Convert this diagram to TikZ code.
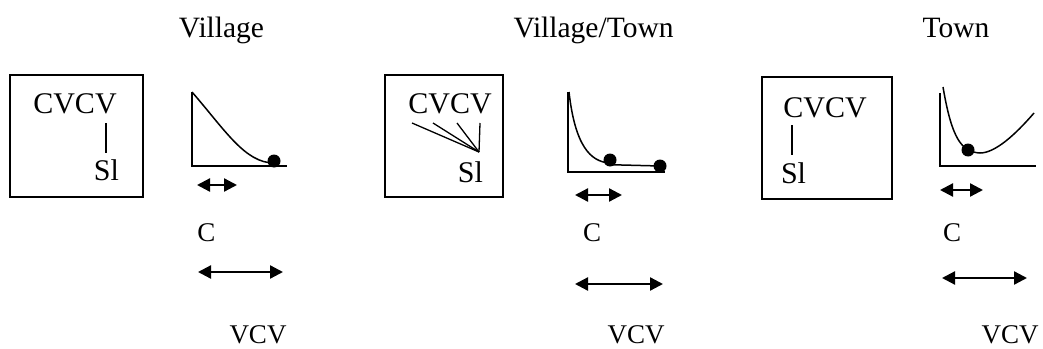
\documentclass[tikz,border=0pt]{standalone}
\usepackage{fontspec}
\setmainfont{Liberation Serif}
\usetikzlibrary{arrows.meta}
\tikzset{
  frame/.style={draw, line width=1.8pt, inner sep=0pt},
  ttl/.style={font=\fontsize{29.5}{30}\selectfont, anchor=base, inner sep=0pt},
  seg/.style={font=\fontsize{30}{30}\selectfont, anchor=base, inner sep=0pt},
  lbl/.style={font=\fontsize{27}{27}\selectfont, anchor=base, inner sep=0pt},
  link/.style={line width=1.3pt},
  axis/.style={line width=1.9pt},
  crv/.style={line width=1.5pt},
  dot/.style={circle, fill, inner sep=0pt, minimum size=13pt},
  dblarrow/.style={line width=2.3pt, {Triangle[length=13pt,width=13pt]}-{Triangle[length=13pt,width=13pt]}}
}
\begin{document}
\begin{tikzpicture}[x=1pt,y=-1pt]
\useasboundingbox (0,0) rectangle (1043,348);

% ---------- Panel 1: Village ----------
\node[ttl] (t1) at (221.5,37) {Village};
\node[frame, minimum width=133pt, minimum height=122pt] (b1) at (76.5,136) {};
\node[seg] (cv1) at (75,113) {CVCV};
\node[seg] (sl1) at (106.5,180) {Sl};
\coordinate (l1a) at (106,123); \coordinate (l1b) at (106,153);
\draw[link] (l1a) -- (l1b);
\coordinate (y1) at (192,92); \coordinate (o1) at (192,166); \coordinate (x1) at (287,166);
\draw[axis] (y1) -- (o1) -- (x1);
\draw[crv] (192,92) .. controls (225,130) and (245,163) .. (274,163);
\node[dot] (d1) at (274,161) {};
\coordinate (sa1) at (197,185); \coordinate (sb1) at (237,185);
\draw[dblarrow] (sa1) -- (sb1);
\node[lbl] (c1) at (206.5,241) {C};
\coordinate (la1) at (198,272); \coordinate (lb1) at (283,272);
\draw[dblarrow] (la1) -- (lb1);
\node[lbl] (v1) at (258,343) {VCV};

% ---------- Panel 2: Village/Town ----------
\node[ttl] (t2) at (593.5,37) {Village/Town};
\node[frame, minimum width=118pt, minimum height=122pt] (b2) at (444,136) {};
\node[seg] (cv2) at (450,113) {CVCV};
\node[seg] (sl2) at (470.5,182) {Sl};
\coordinate (cp2) at (479,152);
\coordinate (e1) at (412,123); \coordinate (e2) at (433,123);
\coordinate (e3) at (457,123); \coordinate (e4) at (480,123);
\draw[link] (e1) -- (cp2);
\draw[link] (e2) -- (cp2);
\draw[link] (e3) -- (cp2);
\draw[link] (e4) -- (cp2);
\coordinate (y2) at (568,92); \coordinate (o2) at (568,172); \coordinate (x2) at (665,172);
\draw[axis] (y2) -- (o2) -- (x2);
\draw[crv] (569,92) .. controls (575,145) and (590,162) .. (610,163);
\node[dot] (d2a) at (610,160) {};
\node[dot] (d2b) at (660,166) {};
\draw[crv] (d2a.south) ++(0,-2) -- (d2b.center);
\coordinate (sa2) at (575,195); \coordinate (sb2) at (622,195);
\draw[dblarrow] (sa2) -- (sb2);
\node[lbl] (c2) at (592,241) {C};
\coordinate (la2) at (575,284); \coordinate (lb2) at (663,284);
\draw[dblarrow] (la2) -- (lb2);
\node[lbl] (v2) at (636,343) {VCV};

% ---------- Panel 3: Town ----------
\node[ttl] (t3) at (956,37) {Town};
\node[frame, minimum width=130pt, minimum height=122pt] (b3) at (827,138) {};
\node[seg] (cv3) at (825,117) {CVCV};
\node[seg] (sl3) at (793.5,183) {Sl};
\coordinate (l3a) at (792,125); \coordinate (l3b) at (792,155);
\draw[link] (l3a) -- (l3b);
\coordinate (y3) at (940,93); \coordinate (o3) at (940,166); \coordinate (x3) at (1036,166);
\draw[axis] (y3) -- (o3) -- (x3);
\draw[crv] (943,87) .. controls (952,140) and (962,152) .. (980,153)
               .. controls (995,153) and (1015,135) .. (1034,113);
\node[dot] (d3) at (968,150) {};
\coordinate (sa3) at (940,190); \coordinate (sb3) at (983,190);
\draw[dblarrow] (sa3) -- (sb3);
\node[lbl] (c3) at (952,241) {C};
\coordinate (la3) at (942,278); \coordinate (lb3) at (1027,278);
\draw[dblarrow] (la3) -- (lb3);
\node[lbl] (v3) at (1010,343) {VCV};
\end{tikzpicture}
\end{document}
